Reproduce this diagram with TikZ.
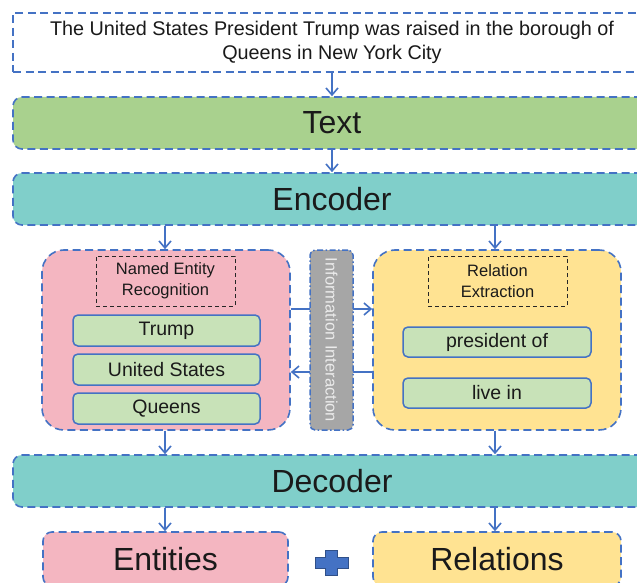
\documentclass[tikz,border=0pt]{standalone}
\usepackage{fontspec}
\setmainfont{Liberation Sans}
\usetikzlibrary{arrows.meta,calc}
\definecolor{bblue}{HTML}{4472C4}
\definecolor{gfill}{HTML}{A9D18E}
\definecolor{tfill}{HTML}{80CFCA}
\definecolor{pfill}{HTML}{F4B6C1}
\definecolor{yfill}{HTML}{FFE392}
\definecolor{lgfill}{HTML}{C8E2B8}
\definecolor{grfill}{HTML}{A6A6A6}
\definecolor{txt}{HTML}{1A1A1A}
\tikzset{
  dashblue/.style={draw=bblue, line width=1.6pt, dash pattern=on 8pt off 4.5pt},
  band/.style={dashblue, rounded corners=9pt, minimum width=638pt, minimum height=52pt, inner sep=0pt, text=txt, font=\fontsize{32}{36}\selectfont},
  panel/.style={dashblue, rounded corners=22pt, minimum width=248pt, minimum height=180pt, inner sep=0pt},
  headbox/.style={draw=black!85, line width=1pt, dash pattern=on 4pt off 3pt, minimum width=139pt, minimum height=50pt, inner sep=0pt, align=center, text=txt, font=\fontsize{16.5}{21}\selectfont},
  itembox/.style={draw=bblue, line width=1.5pt, fill=lgfill, rounded corners=5pt, minimum width=187pt, minimum height=31pt, inner sep=0pt, text=txt, font=\fontsize{19.5}{22}\selectfont},
  outbox/.style={dashblue, rounded corners=9pt, minimum width=245pt, minimum height=54pt, inner sep=0pt, text=txt, font=\fontsize{32}{36}\selectfont},
  arr/.style={draw=bblue, line width=1.6pt, -{Straight Barb[length=7pt,width=12pt,line width=1.6pt]}},
}
\begin{document}
\begin{tikzpicture}[x=1pt,y=-1pt]
\useasboundingbox (0,0) rectangle (637,583);
\clip (0,0) rectangle (637,583);
\fill[white] (0,0) rectangle (637,583);
% top sentence
\node[dashblue, fill=white, minimum width=638pt, minimum height=59pt, inner sep=0pt, align=center, text=txt, font=\fontsize{19.8}{23.5}\selectfont] (sent) at (332,42.5)
  {The United States President Trump was raised in the borough of\\Queens in New York City};
\node[band, fill=gfill] (text) at (332,123) {Text};
\node[band, fill=tfill] (enc) at (332,199) {Encoder};
% panels
\node[panel, fill=pfill] (ner) at (166,340) {};
\node[panel, fill=yfill] (re) at (497,340) {};
% interaction arrows (behind gray box)
\coordinate (nerR1) at (ner.east |- 0,309);
\coordinate (reL1) at (re.west |- 0,309);
\coordinate (reL2) at (re.west |- 0,372);
\coordinate (nerR2) at (ner.east |- 0,372);
\draw[arr] (nerR1) -- (reL1);
\draw[arr] (reL2) -- (nerR2);
\node[fill=grfill, draw=bblue, line width=1.5pt, dash pattern=on 6pt off 2.5pt on 1.5pt off 2.5pt, rounded corners=5pt, minimum width=43pt, minimum height=180pt, inner sep=0pt] (info) at (331.5,340) {};
\node[rotate=-90, text=white!92!black, font=\fontsize{16.5}{20}\selectfont] (infot) at (331.5,340) {Information Interaction};
% NER contents
\node[headbox] (nerh) at (165.5,281) {Named Entity\\Recognition};
\node[itembox] (trump) at (166.5,330.5) {Trump};
\node[itembox] (us) at (166.5,369.5) {United States};
\node[itembox] (queens) at (166.5,408.5) {Queens};
% RE contents
\node[headbox] (reh) at (497.5,281) {Relation\\Extraction};
\node[itembox, minimum width=188pt, minimum height=30pt] (pres) at (497,342) {president of};
\node[itembox, minimum width=188pt, minimum height=30pt] (live) at (497,393) {live in};
% decoder and outputs
\node[band, fill=tfill] (dec) at (332,481) {Decoder};
\node[outbox, fill=pfill] (ent) at (165.5,559) {Entities};
\node[outbox, fill=yfill, minimum width=248pt] (rel) at (497,559) {Relations};
% plus sign
\node[inner sep=0pt, minimum size=0pt] (plus) at (331.5,562.5) {};
\filldraw[fill=bblue, draw=bblue!70!black, line width=0.8pt]
  ($(plus)+(-6,-12.5)$) -- ++(12,0) -- ++(0,7) -- ++(10.5,0) -- ++(0,11) -- ++(-10.5,0) -- ++(0,7) -- ++(-12,0) -- ++(0,-7) -- ++(-10.5,0) -- ++(0,-11) -- ++(10.5,0) -- cycle;
% vertical arrows
\draw[arr] (sent.south -| 332,0) -- (text.north -| 332,0);
\draw[arr] (text.south -| 332,0) -- (enc.north -| 332,0);
\draw[arr] (enc.south -| 165,0) -- (ner.north -| 165,0);
\draw[arr] (enc.south -| 495,0) -- (re.north -| 495,0);
\draw[arr] (ner.south -| 165,0) -- (dec.north -| 165,0);
\draw[arr] (re.south -| 495,0) -- (dec.north -| 495,0);
\draw[arr] (dec.south -| 165,0) -- (ent.north -| 165,0);
\draw[arr] (dec.south -| 495,0) -- (rel.north -| 495,0);
\end{tikzpicture}
\end{document}
